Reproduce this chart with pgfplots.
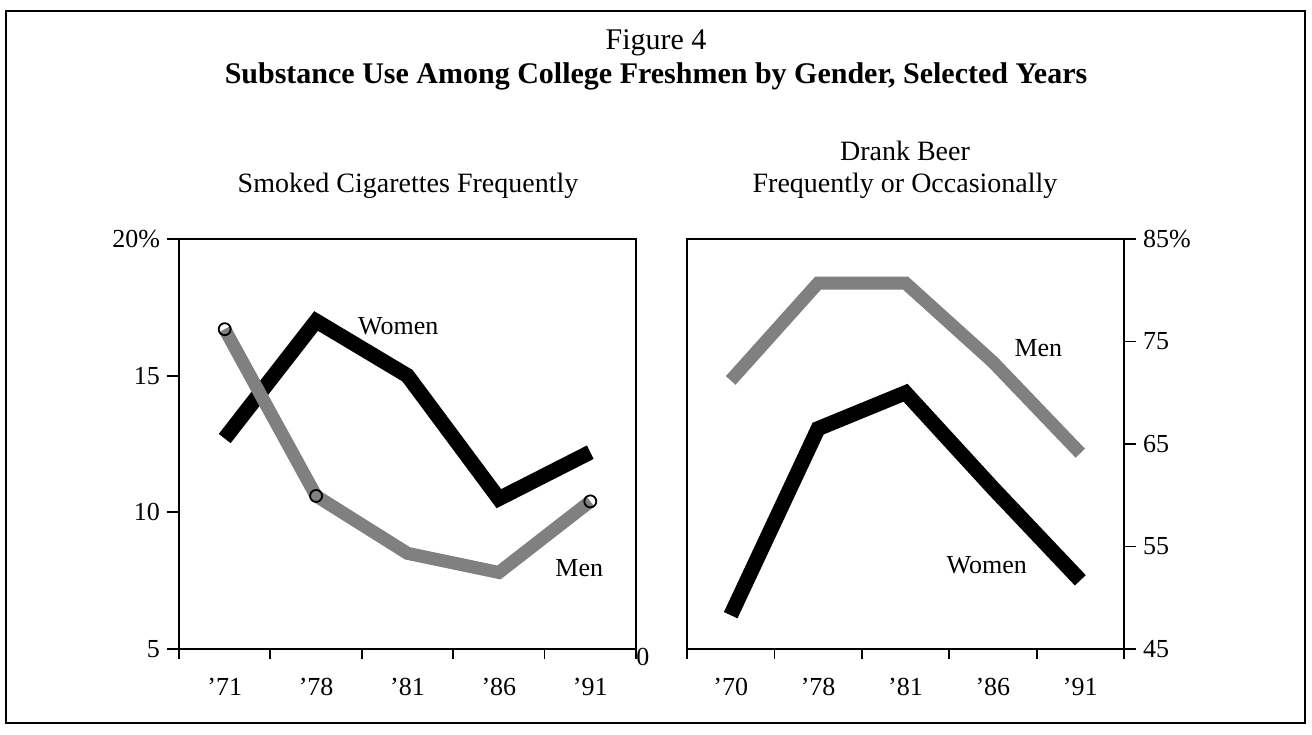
\documentclass[border=0pt]{standalone}
\usepackage{fontspec}
\setmainfont{Liberation Serif}
\usepackage{pgfplots}
\pgfplotsset{compat=1.18}
\pgfplotsset{
  panel/.style={
    scale only axis, anchor=south west, clip=false,
    xmin=-0.5, xmax=4.5,
    xtick={0,1,2,3,4},
    major x tick style={draw=none},
    minor xtick={-0.5,0.5,1.5,2.5,3.5,4.5},
    tick align=outside,
    major tick length=6pt, minor tick length=5pt,
    xtick pos=bottom,
    axis line style={line width=0.9pt},
    every tick/.style={black, line width=0.9pt},
    every tick label/.append style={font=\fontsize{13}{15}\selectfont},
    /pgf/number format/assume math mode=true,
    xticklabel style={yshift=-5pt},
  },
  women/.style={black, line width=7.5pt, line join=miter},
  men/.style={black!50, line width=6.5pt, line join=miter},
}
\begin{document}
\begin{tikzpicture}[x=0.5pt,y=0.5pt]
\useasboundingbox (0,0) rectangle (1312,734);
\draw[line width=1.3pt] (6,11) rectangle (1305,723);
\node[font=\fontsize{15}{18}\selectfont] at (656,691) {Figure 4};
\node[font=\fontsize{15}{18}\selectfont\bfseries] at (656,658) {Substance Use Among College Freshmen by Gender, Selected Years};
\node[font=\fontsize{14}{17}\selectfont] at (408,548) {Smoked Cigarettes Frequently};
\node[font=\fontsize{14}{17}\selectfont] at (905,583) {Drank Beer};
\node[font=\fontsize{14}{17}\selectfont] at (905,548) {Frequently or Occasionally};

\begin{axis}[panel, at={(89.5pt,42.5pt)}, width=228.5pt, height=205pt,
  ymin=5, ymax=20, ytick={5,10,15,20}, yticklabels={5,10,15,20\%},
  ytick pos=left,
  xticklabels={'71,'78,'81,'86,'91}]
\addplot[women] coordinates {(0,12.7) (1,17.0) (2,15.0) (3,10.5) (4,12.2)};
\addplot[men] coordinates {(0,16.7) (1,10.6) (2,8.5) (3,7.8) (4,10.4)};
\addplot[only marks, mark=o, mark size=3pt, black, line width=0.9pt] coordinates {(0,16.7) (1,10.6) (4,10.4)};
\node[font=\fontsize{13}{15}\selectfont] at (axis cs:1.9,16.8) {Women};
\node[font=\fontsize{13}{15}\selectfont] at (axis cs:3.88,7.96) {Men};
\node[font=\fontsize{13}{15}\selectfont, anchor=west, inner sep=0pt] at (rel axis cs:1,0) [yshift=-4pt] {0};
\end{axis}

\begin{axis}[panel, at={(343.5pt,42.5pt)}, width=218.5pt, height=205pt,
  ymin=45, ymax=85, ytick={45,55,65,75,85}, yticklabels={45,55,65,75,85\%},
  ytick pos=right, yticklabel pos=right,
  xticklabels={'70,'78,'81,'86,'91}]
\addplot[men] coordinates {(0,71.2) (1,80.7) (2,80.7) (3,73.0) (4,64.1)};
\addplot[women] coordinates {(0,48.3) (1,66.5) (2,70.0) (3,60.7) (4,51.7)};
\node[font=\fontsize{13}{15}\selectfont] at (axis cs:3.52,74.4) {Men};
\node[font=\fontsize{13}{15}\selectfont] at (axis cs:2.93,53.2) {Women};
\end{axis}
\end{tikzpicture}
\end{document}
